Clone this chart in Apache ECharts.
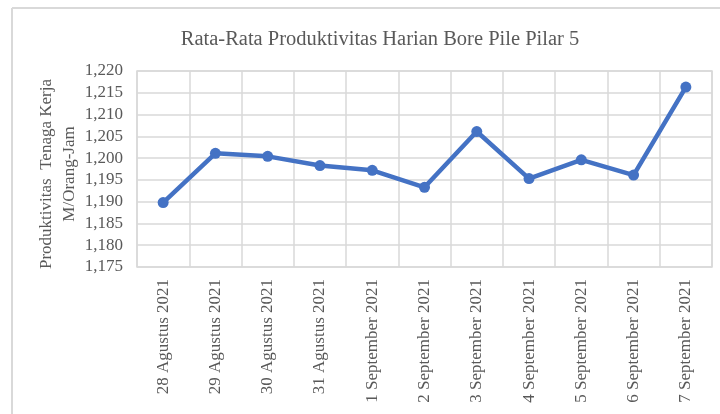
<!DOCTYPE html>
<html>
<head>
<meta charset="utf-8">
<script src="https://cdn.jsdelivr.net/npm/echarts@6/dist/echarts.min.js"></script>
<style>
  html, body { margin: 0; padding: 0; background: #fff; }
  #chart { width: 720px; height: 414px; }
</style>
</head>
<body>
<div id="chart"></div>
<script>
const dates = [
  "28 Agustus 2021", "29 Agustus 2021", "30 Agustus 2021", "31 Agustus 2021",
  "1 September 2021", "2 September 2021", "3 September 2021", "4 September 2021",
  "5 September 2021", "6 September 2021", "7 September 2021",
];
const productivity = [
  1.1898, 1.2011, 1.2004, 1.1983, 1.1972, 1.1933, 1.2061, 1.1953, 1.1996, 1.1961, 1.2163,
];

const textColor = "#595959";
const gridColor = "#d9d9d9";
const serif = "'Liberation Serif', 'Times New Roman', serif";

const chart = echarts.init(document.getElementById("chart"), null, { renderer: "canvas" });

chart.setOption({
  animation: false,
  textStyle: { fontFamily: serif },
  title: {
    text: "Rata-Rata Produktivitas Harian Bore Pile Pilar 5",
    left: 375,
    top: 24,
    textAlign: "center",
    textStyle: { fontFamily: serif, fontSize: 20.5, fontWeight: "normal", color: textColor },
  },
  graphic: [
    { type: "line", shape: { x1: 12, y1: 8, x2: 720, y2: 8 }, style: { stroke: gridColor, lineWidth: 2 } },
    { type: "line", shape: { x1: 12, y1: 8, x2: 12, y2: 414 }, style: { stroke: gridColor, lineWidth: 2 } },
  ],
  grid: {
    left: 137,
    right: 8,
    top: 71,
    bottom: 147,
    show: true,
    borderColor: gridColor,
    borderWidth: 1.5,
  },
  xAxis: {
    type: "category",
    data: dates,
    boundaryGap: true,
    axisLine: { show: false },
    axisTick: { show: false },
    splitLine: { show: true, lineStyle: { color: gridColor, width: 1.5 } },
    axisLabel: {
      rotate: 90,
      interval: 0,
      margin: 12,
      color: textColor,
      fontFamily: serif,
      fontSize: 17,
    },
  },
  yAxis: {
    type: "value",
    min: 1.175,
    max: 1.22,
    interval: 0.005,
    name: "Produktivitas  Tenaga Kerja\nM/Orang-Jam",
    nameLocation: "middle",
    nameRotate: 90,
    nameGap: 56,
    nameMoveOverlap: false,
    nameTextStyle: {
      color: textColor,
      fontFamily: serif,
      fontSize: 17,
      lineHeight: 23,
      padding: [0, 10, 0, 0],
    },
    axisLine: { show: false },
    axisTick: { show: false },
    splitLine: { lineStyle: { color: gridColor, width: 1.5 } },
    axisLabel: {
      color: textColor,
      fontFamily: serif,
      fontSize: 17,
      margin: 14,
      formatter: (v) => v.toFixed(3).replace(".", ","),
    },
  },
  series: [
    {
      type: "line",
      data: productivity,
      symbol: "circle",
      symbolSize: 11,
      lineStyle: { color: "#4472C4", width: 4.5 },
      itemStyle: { color: "#4472C4" },
    },
  ],
});
</script>
</body>
</html>
